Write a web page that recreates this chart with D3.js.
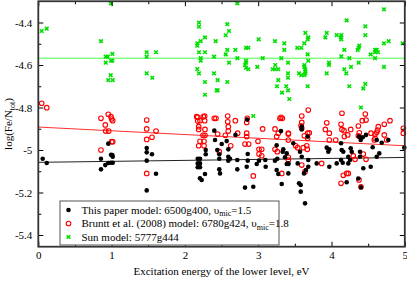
<!DOCTYPE html>
<html><head><meta charset="utf-8">
<script src="https://cdn.jsdelivr.net/npm/d3@7"></script>
<style>
html,body{margin:0;padding:0;background:#fff;}
svg{display:block;font-family:"Liberation Serif","Times New Roman",serif;}
</style></head>
<body>
<svg id="c" width="407" height="281"></svg>
<script>
// ---- data (excitation energy eV, log abundance) ----
const thisPaper = [[0.060,-5.041],[0.115,-5.061],[0.955,-4.970],[0.855,-5.041],[0.992,-5.022],[1.015,-5.032],[1.010,-5.024],[0.914,-5.071],[0.955,-5.061],[0.992,-5.060],[1.015,-5.060],[0.855,-5.091],
[1.479,-4.991],[1.479,-5.011],[1.551,-5.020],[1.479,-5.050],[1.606,-5.112],[1.479,-5.190],
[2.175,-5.041],[2.206,-5.041],[2.175,-5.063],[2.206,-5.063],[2.175,-5.081],[2.206,-5.081],[2.284,-5.000],[2.284,-5.020],[2.401,-4.909],[2.411,-4.953],[2.570,-4.958],[2.592,-4.997],[2.442,-5.000],[2.469,-5.020],[2.469,-5.041],[2.592,-5.032],[2.592,-5.050],[2.615,-5.041],[2.715,-5.047],[2.469,-5.091],[2.479,-5.110],[2.206,-5.133],[2.229,-5.141],[2.274,-5.113],[2.715,-5.091],[2.820,-5.177],[2.933,-5.173],[2.857,-5.050],[2.843,-5.079],[2.857,-5.019],[2.980,-5.066],[3.011,-5.050],[3.097,-5.047],[3.102,-5.079],[3.229,-5.050],[3.261,-5.041],[3.252,-5.094],[3.274,-5.113],[3.252,-4.978],[3.311,-4.911],[3.389,-5.066],[3.411,-5.066],[3.389,-5.016],[3.342,-4.997],[3.411,-5.110],[2.850,-4.857],[2.690,-4.929],[2.502,-4.972],
[3.639,-5.251],[3.580,-5.196],[3.321,-5.160],[4.207,-5.152],[4.402,-5.176],
[3.594,-4.890],[3.479,-4.968],[3.935,-4.989],[3.970,-4.997],[3.956,-5.008],[4.130,-4.968],[4.139,-5.000],[4.161,-5.008],[4.262,-4.992],[4.276,-5.008],[4.398,-4.953],[4.426,-4.940],[4.471,-4.929],[4.562,-4.987],[4.617,-4.953],[4.685,-4.966],[4.775,-4.953],[4.993,-4.989],[3.334,-5.008],[3.366,-5.034],[3.411,-5.063],[3.570,-5.008],[3.594,-5.032],[3.683,-5.047],[3.683,-5.079],[3.652,-5.094],[3.539,-5.063],[3.625,-5.110],[3.557,-5.157],[3.580,-5.165],[3.798,-5.063],[3.970,-5.079],[4.130,-5.047],[4.153,-5.060],[4.229,-5.032],[4.252,-5.047],[4.229,-5.063],[4.389,-5.008],[4.389,-5.032],[4.535,-5.079],[4.617,-5.032],[4.652,-5.016],[4.366,-5.134],[4.434,-5.086],[4.071,-5.063],[3.594,-4.903],[3.675,-4.937],[4.375,-4.937]];

const bruntt = [[0.046,-4.780],[0.115,-4.801],[0.855,-4.851],[0.955,-4.832],[0.992,-4.843],[1.001,-4.854],[1.015,-4.862],[0.914,-4.882],[0.920,-4.911],[0.960,-4.911],[1.001,-4.961],[1.015,-4.961],[0.855,-5.000],
[1.479,-4.859],[1.479,-4.901],[1.606,-4.911],[1.551,-4.940],[1.479,-4.950],[1.479,-5.110],
[2.175,-4.846],[2.175,-4.864],[2.270,-4.840],[2.270,-4.862],[2.206,-4.862],[2.401,-4.851],[2.424,-4.851],[2.584,-4.840],[2.584,-4.867],[2.688,-4.862],[2.851,-4.851],[2.843,-4.870],[2.188,-4.890],[2.188,-4.903],[2.274,-4.903],[2.247,-4.931],[2.274,-4.931],[2.447,-4.925],[2.592,-4.890],[2.592,-4.911],[2.551,-4.931],[2.720,-4.921],[2.843,-4.921],[2.843,-4.937],[2.206,-4.959],[2.261,-4.959],[2.188,-4.980],[2.261,-4.980],[2.469,-5.008],[2.625,-4.980],[2.820,-4.972],[2.870,-4.972],[2.997,-4.959],[3.011,-4.997],[3.011,-5.019],[3.048,-4.997],[3.048,-5.027],[2.933,-5.122],[3.061,-4.901],[3.229,-4.901],[3.274,-4.921],[3.297,-4.851],[3.411,-4.921],[3.411,-4.953],[3.229,-4.997],[3.261,-5.008],[3.411,-5.047],
[2.161,-4.843],[2.251,-4.843],[3.311,-4.846],
[3.683,-4.812],[3.594,-4.840],[3.329,-4.851],[3.594,-4.870],[3.584,-4.886],[3.594,-4.898],[3.697,-4.919],[3.675,-4.921],[3.411,-4.925],[3.512,-4.980],[3.539,-4.989],[3.615,-4.989],[3.662,-4.980],[3.670,-4.997],[3.935,-4.872],[3.916,-4.903],[3.970,-4.921],[3.970,-4.953],[4.057,-4.953],[4.143,-4.827],[4.130,-4.879],[4.143,-4.903],[4.171,-4.909],[4.262,-4.903],[4.379,-4.919],[4.420,-4.862],[4.461,-4.831],[4.366,-4.887],[4.539,-4.921],[4.638,-4.890],[4.630,-4.906],[4.617,-4.917],[4.720,-4.879],[4.798,-4.862],[4.584,-4.953],[4.753,-4.953],[4.980,-4.921],[4.434,-5.019],[4.471,-5.044],[4.297,-5.028],[4.321,-5.044],[4.207,-5.110],[4.229,-5.110],[4.161,-5.119],[4.375,-5.141],[4.402,-5.173],[4.130,-5.157],[3.866,-5.063],[3.594,-5.071],[3.411,-5.034],[3.321,-5.110],[3.639,-5.102],
[3.252,-4.937],[3.629,-4.933],[3.675,-4.945],[4.175,-4.937],[4.221,-4.929],[4.366,-4.933],[4.594,-4.926],[4.594,-4.945],[4.720,-4.929],[4.980,-4.898],[4.471,-4.859]];

const sun = [[0.046,-4.440],[0.115,-4.429],[0.855,-4.488],[0.992,-4.310],[0.920,-4.561],[0.947,-4.561],[1.010,-4.548],[0.992,-4.580],[1.010,-4.580],[0.920,-4.589],[0.988,-4.648],[0.955,-4.671],[1.015,-4.671],
[2.715,-4.310],[1.479,-4.540],[1.479,-4.561],[1.606,-4.540],[1.479,-4.639],[1.555,-4.660],
[2.192,-4.401],[2.192,-4.420],[2.578,-4.408],[2.602,-4.440],[2.557,-4.460],[2.274,-4.470],[2.216,-4.488],[2.169,-4.498],[2.169,-4.509],[2.420,-4.488],[2.578,-4.529],[2.688,-4.529],[2.192,-4.540],[2.274,-4.540],[2.557,-4.550],[2.834,-4.519],[2.865,-4.519],[3.007,-4.479],[2.216,-4.568],[2.216,-4.580],[2.397,-4.561],[2.715,-4.568],[3.061,-4.568],[2.602,-4.589],[2.834,-4.580],[2.834,-4.589],[2.820,-4.600],[2.834,-4.613],[2.865,-4.620],[2.988,-4.609],[2.169,-4.619],[2.192,-4.639],[2.397,-4.639],[2.447,-4.671],[2.578,-4.680],[2.274,-4.680],[2.434,-4.719],[2.447,-4.719],[2.274,-4.740],[2.933,-4.840],
[4.716,-4.338],[4.207,-4.390],[4.461,-4.418],[4.461,-4.459],[3.643,-4.449],[3.683,-4.470],[3.675,-4.479],[3.935,-4.449],[3.916,-4.470],[4.071,-4.459],[4.134,-4.459],[4.126,-4.470],[4.134,-4.479],[3.229,-4.488],[3.356,-4.498],[3.356,-4.529],[3.533,-4.519],[3.588,-4.519],[3.629,-4.498],[3.675,-4.550],[3.683,-4.580],[4.175,-4.529],[4.357,-4.529],[4.379,-4.509],[4.371,-4.519],[4.594,-4.529],[4.617,-4.529],[4.634,-4.540],[4.594,-4.540],[4.535,-4.550],[4.716,-4.498],[4.780,-4.488],[4.971,-4.498],[3.315,-4.568],[3.407,-4.589],[3.233,-4.600],[3.229,-4.620],[3.198,-4.620],[3.274,-4.620],[3.629,-4.600],[3.629,-4.609],[3.643,-4.620],[3.643,-4.630],[3.557,-4.639],[3.588,-4.648],[3.643,-4.639],[3.629,-4.648],[3.407,-4.639],[3.407,-4.660],[3.274,-4.671],[3.256,-4.700],[3.325,-4.730],[3.383,-4.700],[3.407,-4.719],[3.424,-4.760],[3.675,-4.700],[3.966,-4.589],[3.966,-4.600],[4.134,-4.559],[4.243,-4.568],[4.371,-4.589],[4.266,-4.609],[4.175,-4.620],[4.202,-4.639],[3.935,-4.639],[4.243,-4.700],[4.461,-4.689],[4.434,-4.710],[4.594,-4.568],[4.716,-4.609],[4.402,-4.800]];

// linear fits, [value at E=0, value at E=5]
const fitThisPaper = [-5.058, -5.035];
const fitBruntt = [-4.892, -4.980];
const fitSun = [-4.568, -4.568];

const xTicks = [0,1,2,3,4,5];
const xMinor = [0.5,1.5,2.5,3.5,4.5];
const yTicks = [-5.4,-5.2,-5,-4.8,-4.6,-4.4];
const yTickLabels = ["-5.4","-5.2","-5","-4.8","-4.6","-4.4"];
const yMinor = [-5.3,-5.1,-4.9,-4.7,-4.5];

const legendItems = [
  {main:"This paper model: 6500g400, υ", sub:"mic", tail:"=1.5", kind:"black"},
  {main:"Bruntt et al. (2008) model: 6780g424, υ", sub:"mic", tail:"=1.8", kind:"red"},
  {main:"Sun model: 5777g444", sub:"", tail:"", kind:"green"}
];

// ---- drawing ----
const svg = d3.select("#c");
const L=38.3, R=404.8, T=1.25, B=246.7;
const x = d3.scaleLinear().domain([0,5]).range([L,R]);
const y = d3.scaleLinear().domain([-5.455,-4.3]).range([B,T]);

const plot = svg.append("g");

// fit lines
function fitLine(f, color){
  plot.append("line").attr("x1",x(0)).attr("x2",x(5)).attr("y1",y(f[0])).attr("y2",y(f[1]))
    .attr("stroke",color).attr("stroke-width",1);
}
fitLine(fitSun,"#44ff44");
fitLine(fitBruntt,"#ff3030");
fitLine(fitThisPaper,"#222");

function drawX(g, px, py){
  const s=1.8;
  g.append("path").attr("d",`M${px-s},${py-s}L${px+s},${py+s}M${px-s},${py+s}L${px+s},${py-s}`)
   .attr("stroke","#00e000").attr("stroke-width",1.6).attr("fill","none");
}
sun.forEach(d=>drawX(plot,x(d[0]),y(d[1])));
plot.selectAll("circle.br").data(bruntt).join("circle").attr("class","br")
  .attr("cx",d=>x(d[0])).attr("cy",d=>y(d[1])).attr("r",2.3)
  .attr("fill","none").attr("stroke","#ff0000").attr("stroke-width",1.1);
plot.selectAll("circle.tp").data(thisPaper).join("circle").attr("class","tp")
  .attr("cx",d=>x(d[0])).attr("cy",d=>y(d[1])).attr("r",2.3).attr("fill","#000");

// axes (inward ticks on all sides)
const fs = "11px";
function styleAxis(g){ g.select(".domain").remove(); g.selectAll("line").attr("stroke","#000"); g.selectAll("text").attr("font-family","Liberation Serif").attr("font-size",fs).attr("fill","#000"); }
svg.append("g").attr("transform",`translate(0,${B})`)
  .call(d3.axisBottom(x).tickValues(xTicks).tickFormat(d3.format("d")).tickSize(-5).tickPadding(5)).call(styleAxis);
svg.append("g").attr("transform",`translate(0,${B})`)
  .call(d3.axisBottom(x).tickValues(xMinor).tickFormat("").tickSize(-3)).call(styleAxis);
svg.append("g").attr("transform",`translate(0,${T})`)
  .call(d3.axisTop(x).tickValues(xTicks).tickFormat("").tickSize(-5)).call(styleAxis);
svg.append("g").attr("transform",`translate(0,${T})`)
  .call(d3.axisTop(x).tickValues(xMinor).tickFormat("").tickSize(-3)).call(styleAxis);
svg.append("g").attr("transform",`translate(${L},0)`)
  .call(d3.axisLeft(y).tickValues(yTicks).tickFormat((d,i)=>yTickLabels[i]).tickSize(-5).tickPadding(6)).call(styleAxis);
svg.append("g").attr("transform",`translate(${L},0)`)
  .call(d3.axisLeft(y).tickValues(yMinor).tickFormat("").tickSize(-3)).call(styleAxis);
svg.append("g").attr("transform",`translate(${R},0)`)
  .call(d3.axisRight(y).tickValues(yTicks).tickFormat("").tickSize(-5)).call(styleAxis);
svg.append("g").attr("transform",`translate(${R},0)`)
  .call(d3.axisRight(y).tickValues(yMinor).tickFormat("").tickSize(-3)).call(styleAxis);

// frame
svg.append("rect").attr("x",L).attr("y",T).attr("width",R-L).attr("height",B-T)
  .attr("fill","none").attr("stroke","#333").attr("stroke-width",1.8);

// axis titles
svg.append("text").attr("x",(L+R)/2).attr("y",275).attr("text-anchor","middle")
  .attr("font-size",fs).text("Excitation energy of the lower level, eV");
const yt = svg.append("text").attr("transform",`translate(12,${(T+B)/2}) rotate(-90)`).attr("text-anchor","middle").attr("font-size",fs);
yt.append("tspan").text("log(Fe/N");
yt.append("tspan").attr("font-size","8px").attr("dy",3).text("tot");
yt.append("tspan").attr("dy",-3).text(")");

// legend
const lg = svg.append("g");
lg.append("rect").attr("x",60).attr("y",201).attr("width",219).attr("height",44)
  .attr("fill","#fff").attr("stroke","#555").attr("stroke-width",1);
legendItems.forEach((it,i)=>{
  const cy = 210 + i*13.5;
  if(it.kind==="black") lg.append("circle").attr("cx",68.5).attr("cy",cy).attr("r",2.3).attr("fill","#000");
  else if(it.kind==="red") lg.append("circle").attr("cx",68.5).attr("cy",cy).attr("r",2.3).attr("fill","none").attr("stroke","#f00").attr("stroke-width",1.1);
  else drawX(lg,68.5,cy);
  const t = lg.append("text").attr("x",81.5).attr("y",cy+3.8).attr("font-size",fs);
  t.append("tspan").text(it.main);
  if(it.sub){
    t.append("tspan").attr("font-size","8px").attr("dy",2.5).text(it.sub);
    t.append("tspan").attr("dy",-2.5).text(it.tail);
  }
});
</script>
</body></html>
